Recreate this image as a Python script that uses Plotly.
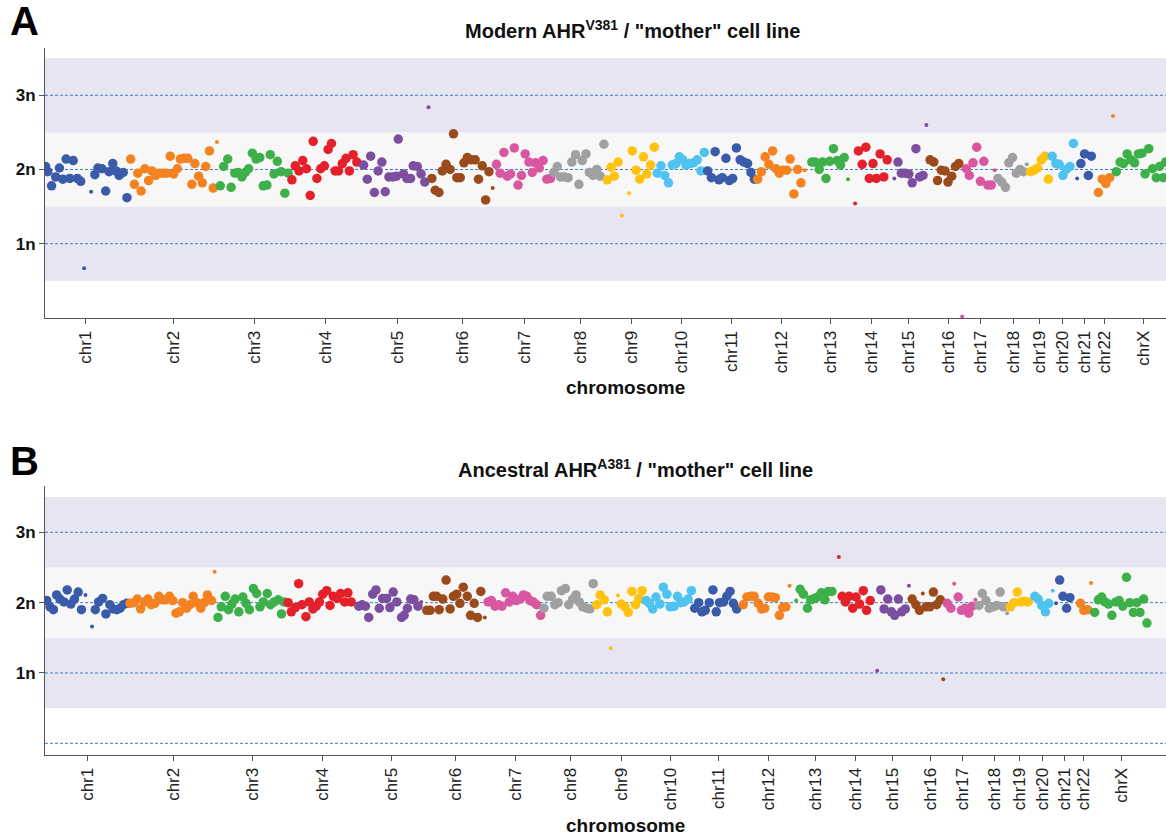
import plotly.graph_objects as go

# ---------------- data ----------------
CHROMS = ["chr1", "chr2", "chr3", "chr4", "chr5", "chr6", "chr7", "chr8", "chr9", "chr10",
          "chr11", "chr12", "chr13", "chr14", "chr15", "chr16", "chr17", "chr18", "chr19",
          "chr20", "chr21", "chr22", "chrX"]
# chromosome label positions along the concatenated genome (Mb, approx.)
TICK_POS = [123, 359, 575, 766, 957, 1133, 1297, 1447, 1586, 1720, 1852, 1988, 2117,
            2227, 2328, 2433, 2520, 2609, 2678, 2741, 2800, 2851, 2957]
CN_TICKS = [1, 2, 3]
CN_LABELS = ["1n", "2n", "3n"]

# Panel A: Modern AHR V381 / "mother" -- bin positions (Mb) and copy number, per chromosome
A_pos = [
    [15, 21, 31, 42, 52, 61, 70, 80, 89, 100, 109, 147, 155, 166, 176, 185, 195, 204, 212, 223, 233],
    [243, 253, 262, 271, 281, 291, 300, 310, 320, 330, 340, 349, 358, 368, 376, 386, 396, 407, 415, 425, 435, 444, 454, 464],
    [483, 492, 503, 512, 522, 531, 541, 550, 559, 569, 579, 589, 598, 608, 617, 627, 636, 646, 656, 665],
    [675, 684, 694, 704, 714, 724, 732, 742, 752, 762, 772, 781, 791, 800, 810, 820, 829, 839, 849],
    [867, 877, 886, 896, 906, 916, 925, 935, 945, 955, 960, 974, 983, 993, 1000, 1011, 1021, 1031],
    [1050, 1059, 1069, 1078, 1088, 1099, 1108, 1117, 1126, 1136, 1145, 1155, 1166, 1175, 1185, 1194, 1203],
    [1223, 1233, 1243, 1252, 1261, 1271, 1281, 1290, 1300, 1310, 1319, 1328, 1338, 1348, 1358, 1368],
    [1377, 1386, 1395, 1405, 1415, 1425, 1435, 1444, 1453, 1463, 1472, 1482, 1492, 1501, 1511],
    [1520, 1530, 1539, 1549, 1587, 1597, 1607, 1617, 1626, 1636, 1646],
    [1654, 1664, 1674, 1684, 1694, 1704, 1713, 1722, 1731, 1741, 1751, 1761, 1771, 1780],
    [1789, 1799, 1809, 1819, 1828, 1838, 1847, 1856, 1866, 1876, 1886, 1896, 1905, 1914],
    [1923, 1933, 1943, 1953, 1963, 1972, 1981, 1991, 2001, 2010, 2020, 2030, 2039],
    [2068, 2077, 2088, 2097, 2106, 2116, 2126, 2136, 2145, 2155],
    [2193, 2203, 2213, 2222, 2232, 2241, 2251, 2261, 2270],
    [2299, 2308, 2318, 2328, 2337, 2347, 2357, 2366],
    [2385, 2395, 2405, 2415, 2425, 2433, 2443, 2453, 2462],
    [2482, 2490, 2500, 2510, 2520, 2529, 2540, 2549],
    [2567, 2577, 2587, 2596, 2606, 2616, 2626, 2635],
    [2654, 2664, 2673, 2683, 2693, 2702],
    [2712, 2722, 2731, 2741, 2750, 2760, 2769],
    [2789, 2799, 2809, 2817],
    [2836, 2846, 2856, 2866],
    [2884, 2894, 2903, 2913, 2923, 2933, 2943, 2953, 2961, 2971, 2981, 2991, 3000, 3010, 3016],
]
A_cn = [
    [2.04, 1.97, 1.78, 1.90, 2.02, 1.87, 2.14, 1.88, 2.12, 1.88, 1.84, 1.93, 2.02, 2.01, 1.71, 1.97, 2.08, 1.98, 1.92, 1.96, 1.62],
    [2.14, 1.80, 1.95, 1.71, 2.01, 1.85, 1.98, 1.92, 1.95, 1.95, 1.95, 2.18, 1.94, 2.01, 2.14, 2.15, 2.15, 1.80, 2.08, 1.91, 1.82, 2.04, 2.25, 1.75],
    [1.78, 2.04, 2.14, 1.76, 1.95, 1.96, 1.90, 1.96, 2.01, 2.22, 2.14, 2.16, 1.78, 1.79, 2.20, 1.94, 2.11, 1.97, 1.68, 1.95],
    [1.86, 2.05, 1.98, 2.12, 2.01, 1.65, 2.38, 1.88, 2.01, 2.05, 2.27, 2.35, 1.98, 1.98, 2.08, 2.15, 1.98, 2.20, 2.10],
    [2.06, 1.87, 2.18, 1.69, 1.98, 2.10, 1.70, 1.90, 1.90, 1.91, 2.41, 1.94, 1.88, 1.88, 2.05, 2.04, 1.94, 1.83],
    [1.88, 1.72, 1.69, 1.98, 2.07, 2.00, 2.48, 1.89, 1.89, 2.09, 2.16, 2.13, 2.13, 1.87, 2.05, 1.59, 1.97],
    [2.07, 1.95, 2.23, 1.91, 1.94, 2.29, 1.79, 1.92, 2.21, 2.10, 1.96, 2.09, 2.02, 2.12, 1.87, 1.88],
    [1.96, 2.04, 1.90, 1.90, 1.89, 2.10, 2.20, 1.80, 2.12, 2.21, 1.96, 1.92, 2.00, 1.91, 2.34],
    [1.86, 2.03, 1.91, 2.10, 2.25, 1.99, 1.87, 2.17, 1.94, 2.06, 2.30],
    [1.95, 2.05, 1.92, 1.82, 2.06, 2.08, 2.17, 2.13, 2.06, 2.08, 2.09, 2.13, 1.98, 2.23],
    [1.98, 1.89, 2.24, 1.86, 1.89, 2.15, 1.85, 1.88, 2.29, 2.13, 2.10, 2.08, 1.96, 1.87],
    [1.87, 1.97, 2.17, 2.07, 2.25, 2.01, 1.95, 1.99, 1.99, 2.14, 1.67, 2.00, 1.82],
    [2.10, 2.10, 2.00, 2.10, 1.88, 2.11, 2.28, 2.12, 2.06, 2.16],
    [2.25, 2.07, 2.30, 1.88, 2.08, 1.88, 2.21, 1.90, 2.13],
    [2.10, 1.95, 1.95, 1.94, 1.82, 2.28, 1.90, 1.92],
    [2.13, 2.10, 1.85, 1.99, 1.98, 1.83, 1.91, 2.04, 2.08],
    [2.01, 1.92, 2.09, 2.30, 1.84, 2.11, 1.79, 1.79],
    [1.88, 1.83, 1.76, 2.09, 2.16, 1.95, 2.00, 1.97],
    [1.97, 1.99, 2.02, 2.13, 2.18, 1.87],
    [2.18, 2.08, 2.07, 1.92, 2.00, 2.04, 2.35],
    [2.08, 2.21, 1.92, 2.18],
    [1.69, 1.87, 1.81, 1.89],
    [1.97, 2.10, 2.08, 2.21, 2.13, 2.09, 2.21, 2.22, 1.94, 2.28, 2.01, 1.89, 2.04, 1.89, 2.10],
]
# Panel A low-support bins (chromosome index, position Mb, copy number)
A_low_chrom = [0, 0, 1, 4, 5, 8, 8, 11, 12, 13, 14, 14, 16, 16, 17, 20, 21]
A_low_pos = [118, 137, 474, 1041, 1213, 1559, 1578, 2049, 2165, 2184, 2289, 2375, 2471, 2558, 2644, 2779, 2875]
A_low_cn = [0.67, 1.70, 2.37, 2.84, 1.75, 1.38, 1.68, 1.99, 1.87, 1.54, 1.88, 2.60, 0.02, 1.99, 2.07, 1.88, 2.72]

# Panel B: Ancestral AHR A381 / "mother"
B_pos = [
    [12, 21, 30, 39, 48, 59, 68, 78, 88, 98, 107, 145, 154, 165, 174, 185, 194, 204, 213, 222, 231],
    [240, 251, 260, 269, 280, 289, 298, 308, 319, 328, 337, 348, 357, 366, 375, 384, 395, 404, 413, 423, 434, 443, 452, 463],
    [481, 490, 501, 510, 519, 528, 538, 549, 558, 567, 578, 587, 596, 605, 616, 625, 635, 646, 655, 662],
    [673, 682, 693, 702, 711, 722, 731, 741, 750, 759, 768, 779, 788, 797, 808, 817, 828, 837, 846],
    [867, 876, 885, 894, 905, 914, 923, 932, 943, 952, 961, 971, 984, 991, 1000, 1009, 1018, 1029],
    [1053, 1062, 1071, 1080, 1087, 1097, 1106, 1117, 1126, 1135, 1144, 1153, 1164, 1173, 1183, 1192, 1201],
    [1221, 1230, 1240, 1250, 1259, 1269, 1279, 1289, 1298, 1309, 1318, 1327, 1336, 1345, 1354, 1365],
    [1374, 1383, 1394, 1404, 1413, 1422, 1433, 1442, 1453, 1462, 1471, 1480, 1491, 1500, 1509],
    [1519, 1528, 1539, 1548, 1586, 1596, 1605, 1615, 1625, 1634, 1643],
    [1654, 1663, 1672, 1681, 1692, 1701, 1711, 1720, 1731, 1740, 1749, 1758, 1769, 1778],
    [1787, 1798, 1807, 1816, 1827, 1837, 1846, 1855, 1866, 1875, 1884, 1893, 1902],
    [1920, 1930, 1941, 1950, 1961, 1970, 1979, 1989, 1999, 2008, 2019, 2028, 2037],
    [2076, 2085, 2096, 2105, 2115, 2124, 2134, 2144, 2153, 2163],
    [2191, 2200, 2210, 2220, 2229, 2239, 2249, 2258, 2268],
    [2297, 2306, 2316, 2326, 2335, 2345, 2354, 2364],
    [2383, 2393, 2403, 2421, 2431, 2441, 2450, 2460],
    [2479, 2489, 2509, 2518, 2528, 2538, 2547],
    [2566, 2575, 2585, 2594, 2604, 2615, 2624, 2633],
    [2652, 2662, 2671, 2681, 2690, 2700],
    [2719, 2728, 2738, 2748, 2757],
    [2787, 2796, 2806, 2815],
    [2844, 2853, 2863],
    [2883, 2893, 2902, 2911, 2921, 2930, 2941, 2950, 2960, 2970, 2979, 2989, 2998, 3007, 3017, 3026],
]
B_cn = [
    [2.03, 1.94, 1.90, 2.11, 2.05, 2.01, 2.18, 1.98, 2.05, 2.15, 1.90, 1.90, 2.01, 2.06, 1.84, 1.97, 1.91, 1.90, 1.92, 1.97, 1.99],
    [1.99, 2.00, 2.05, 1.91, 2.01, 2.05, 1.97, 1.99, 2.09, 2.04, 2.04, 2.09, 2.03, 1.85, 1.87, 2.00, 1.92, 1.97, 2.09, 2.00, 1.92, 2.00, 2.11, 2.03],
    [1.79, 1.94, 2.09, 1.90, 1.98, 2.05, 1.87, 2.08, 1.99, 1.90, 2.20, 2.13, 1.94, 2.01, 2.13, 1.97, 2.01, 2.04, 1.84, 2.01],
    [2.00, 1.87, 1.93, 2.27, 1.97, 1.80, 2.01, 1.91, 1.95, 2.01, 2.12, 2.17, 1.96, 2.09, 2.06, 2.13, 2.01, 2.14, 2.01],
    [1.95, 1.97, 1.95, 1.79, 2.12, 2.18, 1.92, 2.06, 2.06, 1.93, 2.15, 2.01, 1.79, 1.82, 1.92, 2.05, 2.04, 1.95],
    [1.89, 1.89, 2.09, 2.09, 1.90, 2.05, 2.32, 1.91, 2.09, 2.12, 1.99, 2.22, 2.09, 1.82, 1.99, 1.79, 2.16],
    [2.01, 2.03, 1.95, 1.97, 1.95, 2.14, 2.01, 2.09, 2.03, 2.05, 2.11, 2.09, 2.03, 2.01, 1.97, 1.82],
    [1.92, 2.09, 2.09, 1.97, 2.00, 2.17, 2.20, 1.97, 2.05, 2.11, 2.01, 1.94, 1.92, 1.91, 2.27],
    [1.97, 2.11, 2.04, 1.87, 1.98, 1.94, 1.86, 2.16, 1.97, 2.06, 2.17],
    [2.03, 1.99, 1.91, 2.08, 1.98, 2.22, 2.12, 1.94, 1.95, 2.09, 2.00, 2.01, 2.05, 2.17],
    [1.92, 2.00, 1.87, 1.89, 2.00, 2.18, 1.87, 2.00, 2.01, 2.09, 2.16, 1.99, 1.91],
    [1.97, 2.08, 2.09, 2.09, 1.99, 1.91, 1.92, 2.08, 2.08, 2.07, 1.82, 1.93, 1.94],
    [2.19, 2.12, 1.92, 2.04, 2.06, 2.08, 2.14, 2.04, 2.16, 2.16],
    [2.09, 2.01, 2.09, 1.92, 2.08, 1.98, 2.17, 1.89, 2.03],
    [2.18, 1.91, 2.05, 1.87, 1.82, 2.05, 1.87, 1.91],
    [2.05, 1.97, 1.89, 1.94, 1.94, 2.15, 1.97, 2.04],
    [1.99, 1.92, 2.08, 1.89, 1.92, 1.85, 1.95],
    [1.96, 2.13, 2.03, 1.92, 1.94, 1.96, 2.15, 1.94],
    [1.94, 2.00, 2.15, 2.01, 2.02, 2.01],
    [2.09, 2.05, 1.96, 1.87, 1.99],
    [2.32, 2.09, 1.92, 2.07],
    [1.99, 1.89, 1.90],
    [1.86, 2.04, 2.08, 2.01, 1.98, 1.82, 2.01, 2.03, 1.95, 2.36, 2.00, 1.86, 2.00, 1.86, 2.05, 1.71],
]
B_low_chrom = [0, 0, 1, 4, 5, 8, 8, 11, 12, 13, 14, 14, 15, 15, 16, 16, 17, 19, 20, 21]
B_low_pos = [118, 136, 472, 1038, 1212, 1557, 1577, 2047, 2065, 2182, 2287, 2374, 2412, 2468, 2498, 2556, 2643, 2768, 2777, 2873]
B_low_cn = [2.11, 1.66, 2.44, 2.01, 1.79, 1.35, 2.10, 2.24, 2.03, 2.65, 1.03, 2.24, 2.13, 0.91, 2.27, 2.04, 1.85, 2.17, 1.99, 2.28]

# ---------------- style ----------------
PALETTE = ["#3A5BA9", "#F58220", "#3DB04A", "#E4202A", "#7B4EA0",
           "#9B4A1C", "#D957A0", "#A0A0A0", "#FFC20E", "#4FC3F0"]
FONT = "Liberation Sans, Arial, Helvetica, sans-serif"
W, H = 1166, 835
LAV = "#E6E5F1"
MID = "#F7F7F7"
DASH = "#3A7FCB"

fig = go.Figure()

panels = [
    dict(pos=A_pos, cn=A_cn, lc=A_low_chrom, lp=A_low_pos, lv=A_low_cn, xa="x", ya="y"),
    dict(pos=B_pos, cn=B_cn, lc=B_low_chrom, lp=B_low_pos, lv=B_low_cn, xa="x2", ya="y2"),
]
for p in panels:
    for i, ch in enumerate(CHROMS):
        fig.add_trace(go.Scatter(
            x=p["pos"][i], y=p["cn"][i], mode="markers",
            marker=dict(size=9.5, color=PALETTE[i % 10], line=dict(width=0)),
            xaxis=p["xa"], yaxis=p["ya"], showlegend=False, name=ch, hoverinfo="skip"))
    fig.add_trace(go.Scatter(
        x=p["lp"], y=p["lv"], mode="markers",
        marker=dict(size=4, color=[PALETTE[c % 10] for c in p["lc"]], line=dict(width=0)),
        xaxis=p["xa"], yaxis=p["ya"], showlegend=False, hoverinfo="skip"))

shapes = []
for xref, yref, lines in [("x domain", "y", [1, 2, 3]), ("x2 domain", "y2", [0, 1, 2, 3])]:
    for y0, y1, col in [(0.5, 1.5, LAV), (1.5, 2.5, MID), (2.5, 3.5, LAV)]:
        shapes.append(dict(type="rect", xref=xref, yref=yref, x0=0, x1=1, y0=y0, y1=y1,
                           fillcolor=col, line=dict(width=0), layer="below"))
    for yv in lines:
        shapes.append(dict(type="line", xref=xref, yref=yref, x0=0, x1=1, y0=yv, y1=yv,
                           line=dict(color=DASH, width=1, dash="3px,2px"), layer="below"))

xax = dict(tickmode="array", tickvals=TICK_POS, ticktext=CHROMS, tickangle=-90,
           ticks="outside", ticklen=5, tickcolor="#555", showline=True, linecolor="#555",
           linewidth=1, showgrid=False, zeroline=False,
           tickfont=dict(family=FONT, size=17, color="#222"))
yax = dict(tickmode="array", tickvals=CN_TICKS, ticktext=["<b>%s</b>" % t for t in CN_LABELS],
           ticks="outside", ticklen=5, tickcolor="#555", showline=True, linecolor="#555",
           linewidth=1, showgrid=False, zeroline=False,
           tickfont=dict(family=FONT, size=17, color="#111"))

L = 45
def px_x(px):
    return (px - L) / (W - L)
def px_y(py):
    return 1 - py / H

def label(text, cx, cy, size, color="#111"):
    return dict(text=text, x=px_x(cx), y=px_y(cy), xref="paper", yref="paper",
                xanchor="center", yanchor="middle", showarrow=False,
                font=dict(family=FONT, size=size, color=color))

fig.update_layout(
    width=W, height=H, margin=dict(l=L, r=0, t=0, b=0, autoexpand=False),
    paper_bgcolor="white", plot_bgcolor="white",
    xaxis=dict(xax, domain=[0, 1], range=[13.4, 3017.1], anchor="y"),
    yaxis=dict(yax, domain=[px_y(317.9), px_y(48.3)], range=[0, 3.633], anchor="x"),
    xaxis2=dict(xax, domain=[0, 1], range=[7.1, 3078.3], anchor="y2"),
    yaxis2=dict(yax, domain=[px_y(755), px_y(486)], range=[-0.166, 3.658], anchor="x2"),
    shapes=shapes,
    annotations=[
        label("<b>A</b>", 24, 21, 40, "black"),
        label("<b>B</b>", 24, 461, 40, "black"),
        label("<b>Modern AHR<sup>V381</sup> / \"mother\" cell line</b>", 632, 30, 20),
        label("<b>Ancestral AHR<sup>A381</sup> / \"mother\" cell line</b>", 635, 468, 20),
        label("<b>chromosome</b>", 625, 387, 19),
        label("<b>chromosome</b>", 625, 825, 19),
    ],
)

fig.write_html("out.html", config={"displayModeBar": False},
               post_script="document.body.style.margin='0px';")
